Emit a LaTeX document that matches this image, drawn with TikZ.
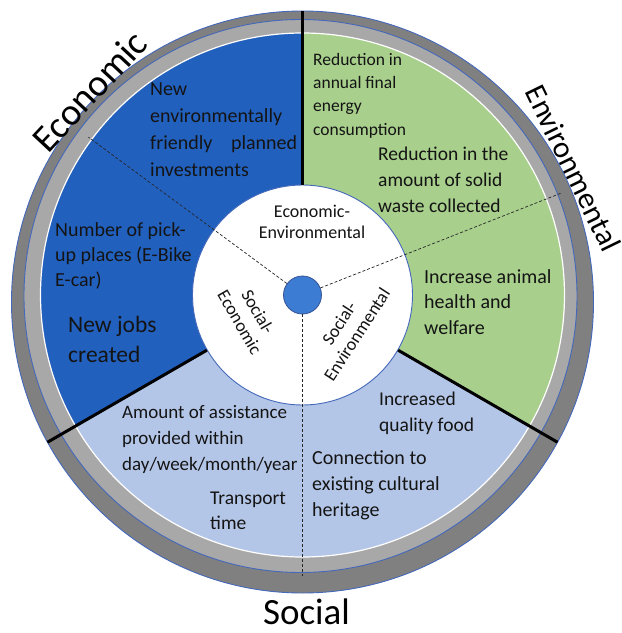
\documentclass[tikz,border=0pt]{standalone}
\usepackage{fontspec}
\setmainfont{Carlito}
\usetikzlibrary{calc}

\definecolor{econblue}{RGB}{34,96,190}
\definecolor{envgreen}{RGB}{168,207,140}
\definecolor{socblue}{RGB}{180,198,231}
\definecolor{ringdark}{RGB}{128,128,128}
\definecolor{ringlight}{RGB}{168,168,168}
\definecolor{rimblue}{RGB}{68,104,186}
\definecolor{hubblue}{RGB}{60,124,210}

\tikzstyle{rimline}=[draw=rimblue, line width=0.9pt]
\tikzstyle{divider}=[black, line width=3pt]
\tikzstyle{spoke}=[black!85, line width=0.7pt, dash pattern=on 3pt off 2pt]
\tikzstyle{indicator}=[align=left, inner sep=0pt, anchor=north west, text=black!92]
\tikzstyle{pairlabel}=[align=center, inner sep=0pt, text=black!92]
\tikzstyle{pillar}=[inner sep=0pt, text=black]

\newcommand{\setsize}[2]{\fontsize{#1}{#2}\selectfont}
% colour, start angle, end angle
\newcommand{\sectorfill}[3]{
	\fill[#1] (0,0) -- (#2:\colorR) arc (#2:#3:\colorR) -- cycle;
}

\begin{document}
\begin{tikzpicture}[x=1pt,y=1pt]
	\pgfmathsetmacro{\colorR}{262}
	\useasboundingbox (-302.5,-338) rectangle (319.5,295);
	% the two grey rims, slightly shifted
	\draw[rimline, fill=ringdark] (0,-7) circle (291);
	\draw[rimline, fill=ringlight] (-2,-1) circle (276.5);
	% the three pillars
	\sectorfill{envgreen}{-30}{90}
	\sectorfill{econblue}{90}{210}
	\sectorfill{socblue}{210}{330}
	\draw[white, line width=1.2pt] (0,0) circle (\colorR);
	% white core with the overlaps
	\node[circle, draw=rimblue, line width=0.9pt, fill=white, minimum size=220, inner sep=0pt] (core) at (0,0) {};
	\coordinate (topEdge) at (90:284);
	\coordinate (swEdge) at (210:294.5);
	\coordinate (seEdge) at (330:294.5);
	\draw[divider] (core.north) -- (topEdge);
	\draw[divider] (core.210) -- (swEdge);
	\draw[divider] (core.330) -- (seEdge);
	% dashed spokes from the hub
	\node[circle, draw=rimblue!80!black, line width=0.8pt, fill=hubblue, minimum size=38, inner sep=0pt] (hub) at (0,0) {};
	\coordinate (econTip) at (143.6:266);
	\coordinate (envTip) at (21.5:278);
	\coordinate (socTip) at (270:281);
	\draw[spoke] (hub) -- (econTip);
	\draw[spoke] (hub) -- (envTip);
	\draw[spoke] (hub) -- (socTip);
	%
	\node[pairlabel, font=\setsize{18}{21}] (econEnv) at (9.5,73) {Economic-\\Environmental};
	\node[pairlabel, font=\setsize{18}{21}, rotate=-60] (socEcon) at (-53.5,-22) {Social-\\Economic};
	\node[pairlabel, font=\setsize{18}{21}, rotate=57] (socEnv) at (45.5,-34) {Social-\\Environmental};
	% economic indicators
	\node[indicator, font=\setsize{20}{27}] (investments) at (-152.5,213) {New\\environmentally\\\makebox[147pt][s]{friendly planned}\\investments};
	\node[indicator, font=\setsize{20}{25}] (pickup) at (-247.5,73) {Number of pick-\\up places (E-Bike\\E-car)};
	\node[indicator, font=\setsize{23.5}{30}] (jobs) at (-234.5,-20.6) {New jobs\\created};
	% environmental indicators
	\node[indicator, font=\setsize{17.5}{23.3}] (energy) at (10.5,242) {Reduction in\\annual final\\energy\\consumption};
	\node[indicator, font=\setsize{19.5}{26}] (waste) at (75.5,148) {Reduction in the\\amount of solid\\waste collected};
	\node[indicator, font=\setsize{20}{25.5}] (animal) at (121.5,26) {Increase animal\\health and\\welfare};
	% social indicators
	\node[indicator, font=\setsize{19.5}{26}] (food) at (76.5,-97) {Increased\\quality food};
	\node[indicator, font=\setsize{20}{26}] (heritage) at (9.5,-155) {Connection to\\existing cultural\\heritage};
	\node[indicator, font=\setsize{19}{26}] (assistance) at (-180.5,-110) {Amount of assistance\\provided within\\day/week/month/year};
	\node[indicator, font=\setsize{19.5}{25}] (transport) at (-92.5,-197) {Transport\\time};
	% pillar names round the rim
	\node[pillar, font=\setsize{38}{40}, rotate=47] (econName) at (-213,204) {Economic};
	\node[pillar, font=\setsize{30.5}{33}, rotate=-64] (envName) at (271,127) {Environmental};
	\node[pillar, font=\setsize{37}{40}] (socName) at (4,-317) {Social};
\end{tikzpicture}
\end{document}
